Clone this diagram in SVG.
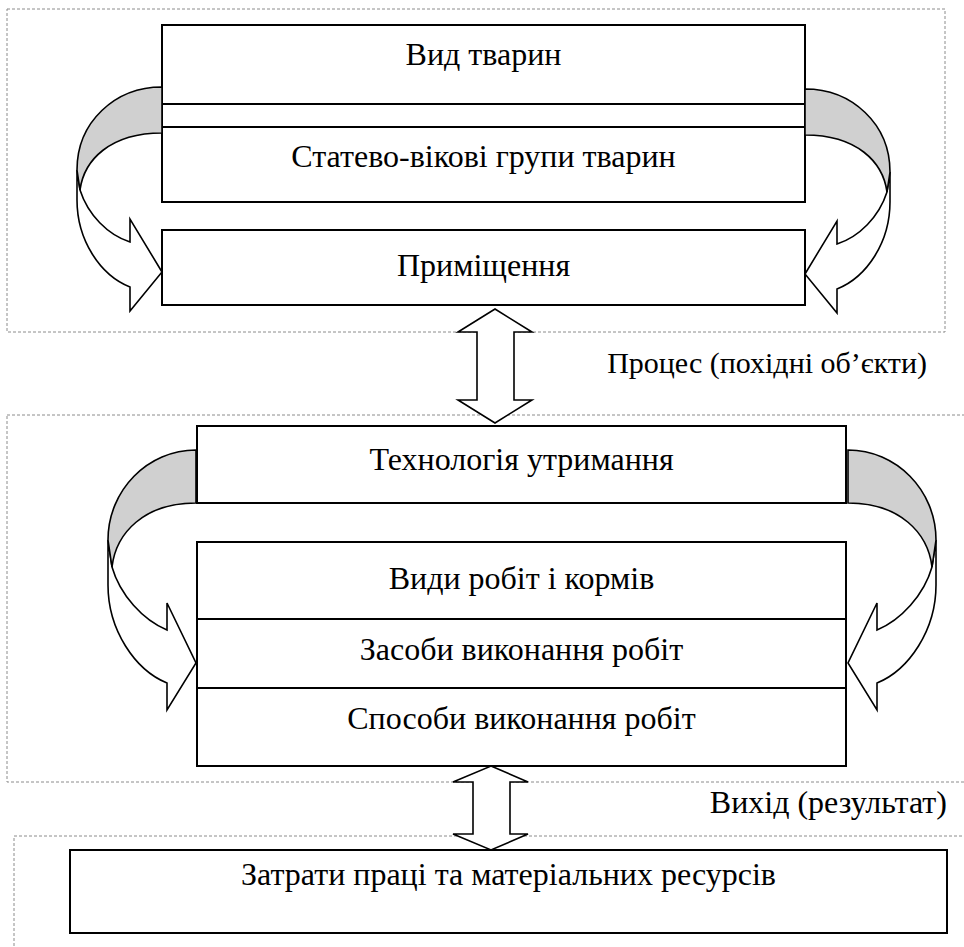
<svg xmlns="http://www.w3.org/2000/svg" width="964" height="947" viewBox="0 0 964 947">
<style>
.frame{fill:none;stroke:#8c8c8c;stroke-width:1;stroke-dasharray:3,2}
.box{fill:#fff;stroke:#000;stroke-width:2}
.sep{stroke:#000;stroke-width:2}
.arw{fill:#fff;stroke:#000;stroke-width:1.6;stroke-linejoin:miter}
.grey{fill:#d0d0d0;stroke:#000;stroke-width:1.6}
text{font-family:"Liberation Serif","Times New Roman",serif;font-size:32px;fill:#000}
.c{text-anchor:middle}
.e{text-anchor:end}
</style>
<defs>
<g id="curveTop">
<path class="arw" d="M77,170 L77,200 C77,240 100,275 130,287 L130,311 L162,272 L130,219 L130,242 C108,235 88,215 80,190 Z"/>
<path class="grey" d="M162,87 C115,87 77,122 77,170 L80,190 C84,160 110,133 162,133 Z"/>
</g>
<g id="curveMid">
<path class="arw" d="M108,540 L108,585 C108,630 135,670 167,683 L167,710 L196,663 L167,603 L167,630 C143,620 120,595 112,567 Z"/>
<path class="grey" d="M196,450 C148,450 108,490 108,540 L112,567 C116,533 144,503 196,503 Z"/>
</g>
</defs>
<g id="frames">
<rect class="frame" x="7" y="9" width="938" height="323"/>
<rect class="frame" x="7" y="415" width="975" height="367"/>
<rect class="frame" x="14" y="836" width="970" height="130"/>
</g>
<g id="node-species">
<rect class="box" x="162" y="25" width="643" height="177"/>
<line class="sep" x1="162" y1="104" x2="805" y2="104"/>
<line class="sep" x1="162" y1="127" x2="805" y2="127"/>
<text class="c" x="483.5" y="65">Вид тварин</text>
<text class="c" x="483.5" y="167">Статево-вікові групи тварин</text>
</g>
<g id="node-premises">
<rect class="box" x="162" y="230" width="643" height="75"/>
<text class="c" x="483.5" y="276">Приміщення</text>
</g>
<g id="node-technology">
<rect class="box" x="197" y="426" width="649" height="77"/>
<text class="c" x="521.5" y="470">Технологія утримання</text>
</g>
<g id="node-works">
<rect class="box" x="197" y="542" width="649" height="224"/>
<line class="sep" x1="197" y1="619" x2="846" y2="619"/>
<line class="sep" x1="197" y1="688" x2="846" y2="688"/>
<text class="c" x="521.5" y="589">Види робіт і кормів</text>
<text class="c" x="521.5" y="660">Засоби виконання робіт</text>
<text class="c" x="521.5" y="729">Способи виконання робіт</text>
</g>
<g id="node-costs">
<rect class="box" x="70" y="850" width="877" height="83"/>
<text class="c" x="508.5" y="885">Затрати праці та матеріальних ресурсів</text>
</g>
<g id="connectors">
<use href="#curveTop"/>
<use href="#curveTop" transform="translate(967,2) scale(-1,1)"/>
<use href="#curveMid"/>
<use href="#curveMid" transform="translate(1044,0) scale(-1,1)"/>
<path class="arw" d="M495,309 L532,332 L514,332 L514,400 L532,400 L495,423 L458,400 L477,400 L477,332 L458,332 Z"/>
<path class="arw" d="M491,766 L528,782 L510,782 L510,834 L528,834 L491,850 L453,834 L473,834 L473,782 L453,782 Z"/>
</g>
<g id="labels">
<text class="e" x="927" y="373" style="font-size:30px">Процес (похідні об’єкти)</text>
<text class="e" x="947" y="813">Вихід (результат)</text>
</g>
</svg>
